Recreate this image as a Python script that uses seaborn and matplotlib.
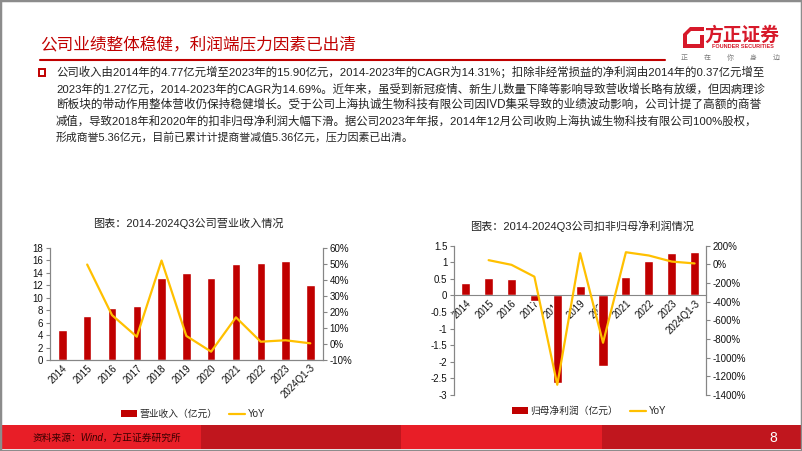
# -*- coding: utf-8 -*-

import numpy as np
import matplotlib.pyplot as plt
import seaborn as sns
from matplotlib.patches import Rectangle, Patch, Polygon
from matplotlib.lines import Line2D
from matplotlib.ticker import FuncFormatter


years = ['2014', '2015', '2016', '2017', '2018', '2019', '2020',
         '2021', '2022', '2023', '2024Q1-3']
# 营业收入（亿元）及同比
revenue = [4.77, 7.06, 8.40, 8.70, 13.20, 13.90, 13.20, 15.40, 15.60, 15.90, 12.07]
revenue_yoy = [np.nan, 49.5, 18.0, 4.5, 52.0, 5.0, -4.8, 16.6, 1.4, 2.3, 0.4]
# 扣非归母净利润（亿元）及同比
profit = [0.37, 0.53, 0.50, -0.18, -2.63, 0.28, -2.12, 0.57, 1.04, 1.27, 1.31]
profit_yoy = [np.nan, 45, -5, -132, -1290, 120, -840, 130, 95, 30, 10]

TITLE = '公司业绩整体稳健，利润端压力因素已出清'
BODY = [
    '公司收入由2014年的4.77亿元增至2023年的15.90亿元，2014-2023年的CAGR为14.31%；扣除非经常损益的净利润由2014年的0.37亿元增至',
    '2023年的1.27亿元，2014-2023年的CAGR为14.69%。近年来，虽受到新冠疫情、新生儿数量下降等影响导致营收增长略有放缓，但因病理诊',
    '断板块的带动作用整体营收仍保持稳健增长。受于公司上海执诚生物科技有限公司因IVD集采导致的业绩波动影响，公司计提了高额的商誉',
    '减值，导致2018年和2020年的扣非归母净利润大幅下滑。据公司2023年年报，2014年12月公司收购上海执诚生物科技有限公司100%股权，',
    '形成商誉5.36亿元，目前已累计计提商誉减值5.36亿元，压力因素已出清。',
]
# 每行正文在参考图中的宽度（像素）
BODY_WIDTH = [704, 704, 702, 699, 356]
CHART1_TITLE = '图表：2014-2024Q3公司营业收入情况'
CHART2_TITLE = '图表：2014-2024Q3公司扣非归母净利润情况'
SOURCE = '资料来源：Wind，方正证券研究所'

RED = '#C00000'
YELLOW = '#FFC000'
SPINE = '#868686'
W, H = 802, 451


def fx(px):
    return px / W


def fy(py):
    return 1 - py / H


def rotate_xlabels(ax):
    ax.tick_params(axis='x', length=0, labelsize=7, labelcolor='#111111')
    for lab in ax.get_xticklabels():
        lab.set_rotation(45)
        lab.set_ha('right')
        lab.set_rotation_mode('anchor')


def style_axes(ax, ax2):
    for a in (ax, ax2):
        a.spines['top'].set_visible(False)
        for s in ('left', 'right', 'bottom'):
            a.spines[s].set_color(SPINE)
            a.spines[s].set_linewidth(0.8)
        a.tick_params(axis='y', length=3, width=0.8, color=SPINE,
                      labelsize=7, pad=2, labelcolor='#111111')
        a.set_xlabel('')
        a.set_ylabel('')
    ax.set_xlim(-0.5, len(years) - 0.5)


def main():
    sns.set_style('white')
    plt.rcParams['font.family'] = ['Liberation Sans', 'Noto Sans CJK SC', 'DejaVu Sans']
    plt.rcParams['axes.unicode_minus'] = False

    fig = plt.figure(figsize=(W / 100, H / 100), dpi=100)
    idx = np.arange(len(years))

    # --- 左图：营业收入 ---
    ax = fig.add_axes([fx(50), fy(360), fx(322.7 - 50), (360 - 247.7) / H])
    sns.barplot(x=years, y=revenue, color=RED, saturation=1, width=0.34, ax=ax)
    ax.set_ylim(0, 18)
    ax.set_yticks(np.arange(0, 19, 2))
    ax2 = ax.twinx()
    sns.lineplot(x=idx[1:], y=revenue_yoy[1:], color=YELLOW, linewidth=1.6, ax=ax2)
    ax2.set_ylim(-10, 60)
    ax2.set_yticks(np.arange(-10, 61, 10))
    ax2.yaxis.set_major_formatter(FuncFormatter(lambda v, p: f'{v:.0f}%'))
    style_axes(ax, ax2)
    rotate_xlabels(ax)
    ax.tick_params(axis='x', pad=2)

    # --- 右图：扣非归母净利润 ---
    bx = fig.add_axes([fx(454.3), fy(395), fx(706 - 454.3), (395 - 245.7) / H])
    sns.barplot(x=years, y=profit, color=RED, saturation=1, width=0.4, ax=bx)
    bx.set_ylim(-3, 1.5)
    bx.set_yticks(np.arange(-3, 1.51, 0.5))
    bx.yaxis.set_major_formatter(FuncFormatter(lambda v, p: f'{v:g}'))
    bx2 = bx.twinx()
    sns.lineplot(x=idx[1:], y=profit_yoy[1:], color=YELLOW, linewidth=1.6, ax=bx2)
    bx2.set_ylim(-1400, 200)
    bx2.set_yticks(np.arange(-1400, 201, 200))
    bx2.yaxis.set_major_formatter(FuncFormatter(lambda v, p: f'{v:.0f}%'))
    style_axes(bx, bx2)
    bx.spines['bottom'].set_position(('data', 0))
    bx2.spines['bottom'].set_visible(False)
    rotate_xlabels(bx)
    bx.tick_params(axis='x', pad=2)

    # 图例
    handles = [Patch(facecolor=RED, edgecolor='none'),
               Line2D([], [], color=YELLOW, linewidth=1.6)]
    fig.legend(handles, ['营业收入（亿元）', 'YoY'], loc='center',
               bbox_to_anchor=(fx(193), fy(414)), ncol=2, frameon=False,
               fontsize=7, handlelength=1.6, handleheight=0.6,
               handletextpad=0.3, columnspacing=1.2)
    fig.legend(handles, ['归母净利润（亿元）', 'YoY'], loc='center',
               bbox_to_anchor=(fx(589), fy(411)), ncol=2, frameon=False,
               fontsize=7, handlelength=1.6, handleheight=0.6,
               handletextpad=0.3, columnspacing=1.2)

    # 图表标题
    fig.text(fx(188), fy(223), CHART1_TITLE, ha='center', va='center',
             fontsize=8, color='#222222')
    fig.text(fx(582), fy(226), CHART2_TITLE, ha='center', va='center',
             fontsize=8, color='#222222')

    # 页面标题和正文
    fig.text(fx(40), fy(44), TITLE, ha='left', va='center', fontsize=12,
             color=RED)
    fig.add_artist(Line2D([fx(40), fx(665)], [fy(60), fy(60)], color=RED,
                          linewidth=1.5))
    fig.add_artist(Rectangle((fx(38.5), fy(75.5)), fx(6.5), 6.5 / H,
                             facecolor='none', edgecolor=RED, linewidth=1.4))
    renderer = fig.canvas.get_renderer()
    for i, line in enumerate(BODY):
        t = fig.text(fx(56), fy(72.3 + 16.25 * i), line, ha='left', va='center',
                     fontsize=8.4, color='#222222')
        # 按参考图中每行的宽度调整字号（两端对齐的效果）
        w = t.get_window_extent(renderer).width
        t.set_fontsize(8.4 * BODY_WIDTH[i] / w)

    # 方正证券 logo
    fig.add_artist(Polygon([(fx(690), fy(27)), (fx(704), fy(27)), (fx(704), fy(31)),
                            (fx(691), fy(31)), (fx(687), fy(35)), (fx(687), fy(44)),
                            (fx(700), fy(44)), (fx(700), fy(35)), (fx(704), fy(35)),
                            (fx(704), fy(48)), (fx(683), fy(48)), (fx(683), fy(34))],
                           closed=True, facecolor='#D7192A', edgecolor='none'))
    fig.text(fx(742), fy(35), '方正证券', ha='center', va='center', fontsize=13.5,
             fontweight='bold', color='#D7192A')
    fig.text(fx(743), fy(46), 'FOUNDER SECURITIES', ha='center', va='center',
             fontsize=4, fontweight='bold', color='#D7192A')
    for j, ch in enumerate('正在你身边'):
        fig.text(fx(684 + 23 * j), fy(58), ch, ha='center', va='center',
                 fontsize=5, color='#7F7F7F')

    # 页脚
    for k, c in enumerate(['#E81E27', '#C0161E', '#E81E27', '#C0161E']):
        fig.add_artist(Rectangle((fx(200.5 * k), fy(449)), fx(200.5), 24 / H,
                                 facecolor=c, edgecolor='none'))
    fig.text(fx(33), fy(438), SOURCE, ha='left', va='center', fontsize=7,
             style='italic', color='#3A0000')
    fig.text(fx(773), fy(438), '8', ha='center', va='center', fontsize=10,
             color='white')
    fig.add_artist(Rectangle((0, 0), 1, 1, facecolor='none', edgecolor='#8C8C8C',
                             linewidth=2.5))

    fig.savefig('out.png', dpi=100, facecolor='white')


if __name__ == '__main__':
    main()
